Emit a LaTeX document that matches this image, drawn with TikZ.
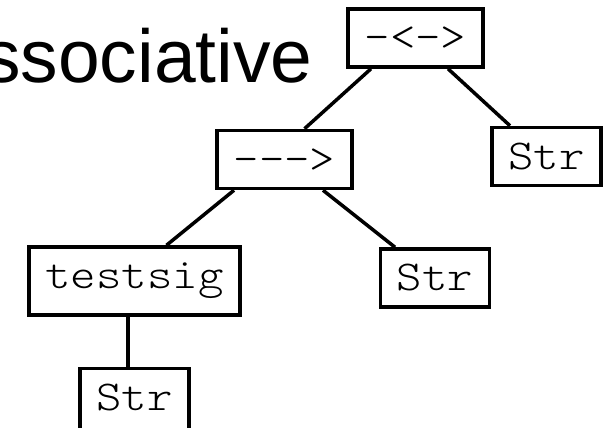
\documentclass[tikz,border=0pt]{standalone}
\usepackage{fontspec}
\setmonofont[FakeStretch=1.14]{Latin Modern Mono Light}
\newfontfamily\headfont{Liberation Sans}
\usetikzlibrary{positioning}

\begin{document}
\begin{tikzpicture}[
    x=1pt, y=1pt,
    tbox/.style={draw, line width=3.5pt, inner xsep=16.5pt, inner ysep=16.5pt,
                 text height=25pt, text depth=0pt,
                 font=\ttfamily\fontsize{42.5}{50}\selectfont},
    link/.style={line width=3.5pt},
    head/.style={inner sep=0pt, anchor=base west,
                 font=\headfont\fontsize{75}{90}\selectfont}
]
\useasboundingbox (0,0) rectangle (605,-428);
\node[head] (assoc) at (-17,-82) {ssociative};
\node[tbox] (op) at (415.5,-38) {-<->};
\node[tbox, below=60pt of op, xshift=-131pt] (arr) {--->};
\node[tbox, below=57pt of op, xshift=131pt] (s1) {Str};
\node[tbox, text depth=10pt, below=55pt of arr, xshift=-150pt] (sig) {testsig};
\node[tbox, below=57pt of arr, xshift=150.5pt] (s2) {Str};
% runs off the bottom edge
\node[tbox, text depth=8pt, below=50pt of sig] (s3) {Str};
\draw[link] ([xshift=-44.5pt]op.south) -- ([xshift=20pt]arr.north);
\draw[link] ([xshift=32.5pt]op.south) -- ([xshift=-36.5pt]s1.north);
\draw[link] ([xshift=-50.5pt]arr.south) -- ([xshift=32pt]sig.north);
\draw[link] ([xshift=38.5pt]arr.south) -- ([xshift=-40pt]s2.north);
\draw[link] ([xshift=-6.5pt]sig.south) -- ([xshift=-6.5pt]s3.north);
\end{tikzpicture}
\end{document}
